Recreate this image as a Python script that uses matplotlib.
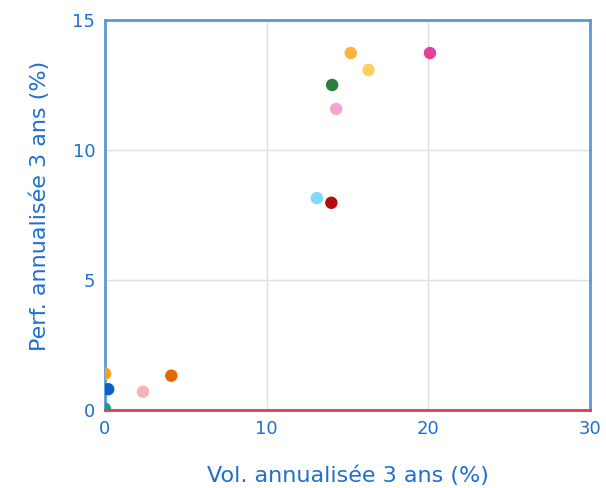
import matplotlib
matplotlib.use("Agg")
import matplotlib.pyplot as plt

vol = [0.0, 0.2, 0.0, 2.35, 4.1, 13.1, 14.0, 14.3, 14.05, 15.2, 16.3, 20.1]
perf = [1.4, 0.8, 0.05, 0.7, 1.32, 8.15, 7.97, 11.58, 12.5, 13.73, 13.08, 13.73]
colors = ["#f7a21b", "#0a62c9", "#1f9c7a", "#f8b4b4", "#e06a00", "#7fd9f8",
          "#b30c0c", "#f6a3cf", "#2a7d3c", "#fbb43a", "#fdd05a", "#e6409a"]

xticks = [0, 10, 20, 30]
yticks = [0, 5, 10, 15]
xlabel = "Vol. annualisée 3 ans (%)"
ylabel = "Perf. annualisée 3 ans (%)"

blue = "#1f6fd1"
fig = plt.figure(figsize=(6.06, 4.88), dpi=100)
ax = fig.add_axes([105/606, 1-410/488, 485/606, 390/488])
ax.scatter(vol, perf, s=80, c=colors, linewidths=0, zorder=3, clip_on=True)
ax.set_xlim(0, 30)
ax.set_ylim(0, 15)
ax.set_xticks(xticks)
ax.set_yticks(yticks)
ax.grid(True, color="#e0e0e0", linewidth=1, zorder=0)
ax.axhline(0, color="#d9404f", linewidth=2, zorder=4, clip_on=False)
for s in ["top", "right", "left"]:
    ax.spines[s].set_color("#5b97db")
    ax.spines[s].set_linewidth(2)
ax.spines["bottom"].set_visible(False)
ax.tick_params(length=0, labelsize=13, labelcolor=blue, pad=7)
ax.set_xlabel(xlabel, color=blue, fontsize=16, va="center")
ax.set_ylabel(ylabel, color=blue, fontsize=16, va="center")
ax.xaxis.set_label_coords(0.5, (410 - 476) / 390)
ax.yaxis.set_label_coords((40 - 105) / 485, (410 - 206) / 390)
fig.savefig("out.png", dpi=100)
